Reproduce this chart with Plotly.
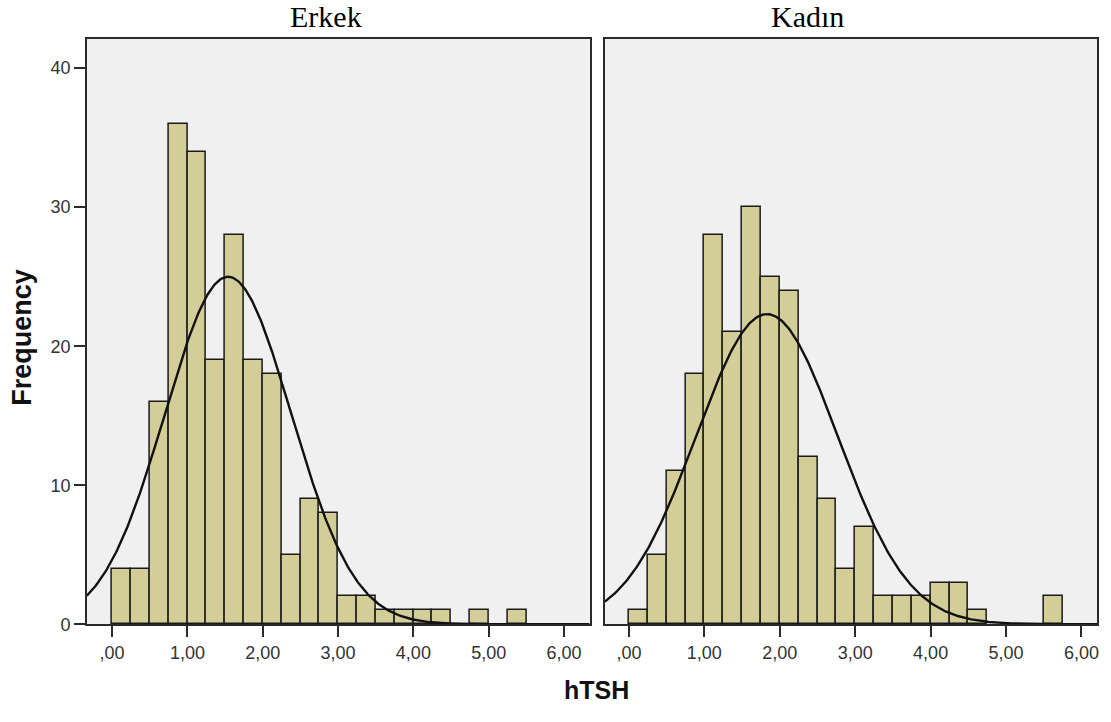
import numpy as np
import plotly.graph_objects as go

# ---- data ----
bin_width = 0.25

erkek_bin_start = [0.00, 0.25, 0.50, 0.75, 1.00, 1.25, 1.50, 1.75, 2.00, 2.25,
                   2.50, 2.75, 3.00, 3.25, 3.50, 3.75, 4.00, 4.25, 4.75, 5.25]
erkek_counts = [4, 4, 16, 36, 34, 19, 28, 19, 18, 5,
                9, 8, 2, 2, 1, 1, 1, 1, 1, 1]

kadin_bin_start = [0.00, 0.25, 0.50, 0.75, 1.00, 1.25, 1.50, 1.75, 2.00, 2.25,
                   2.50, 2.75, 3.00, 3.25, 3.50, 3.75, 4.00, 4.25, 4.50, 5.50]
kadin_counts = [1, 5, 11, 18, 28, 21, 30, 25, 24, 12,
                9, 4, 7, 2, 2, 2, 3, 3, 1, 2]

# fitted normal curves (mean, sd, N)
erkek_mean, erkek_sd, erkek_n = 1.54, 0.838, 210
kadin_mean, kadin_sd, kadin_n = 1.83, 0.939, 210

panel_titles = ["Erkek", "Kadın"]
x_tickvals = [0, 1, 2, 3, 4, 5, 6]
x_ticktext = [",00", "1,00", "2,00", "3,00", "4,00", "5,00", "6,00"]
y_tickvals = [0, 10, 20, 30, 40]
y_ticktext = ["0", "10", "20", "30", "40"]

x_range_left = [-0.335, 6.34]
x_range_right = [-0.318, 6.21]
y_range = [0, 42.1]

# ---- styling ----
BAR_FILL = "#D3CE97"
BAR_LINE = "#1a1a1a"
PLOT_BG = "#F0F0F0"
AXIS_COL = "#2a2a2a"
TICK_FONT = dict(family="Liberation Sans, Arial, sans-serif", size=18, color="#333333")

W, H = 1111, 722


def normal_curve(mean, sd, n, xr):
    xs = np.linspace(xr[0], xr[1], 400)
    ys = n * bin_width * np.exp(-0.5 * ((xs - mean) / sd) ** 2) / (sd * np.sqrt(2 * np.pi))
    return xs, ys


fig = go.Figure()

for starts, counts, mean, sd, n, xr, xa, ya in [
    (erkek_bin_start, erkek_counts, erkek_mean, erkek_sd, erkek_n, x_range_left, "x", "y"),
    (kadin_bin_start, kadin_counts, kadin_mean, kadin_sd, kadin_n, x_range_right, "x2", "y2"),
]:
    centers = [s + bin_width / 2 for s in starts]
    fig.add_trace(go.Bar(
        x=centers, y=counts, width=bin_width,
        marker=dict(color=BAR_FILL, line=dict(color=BAR_LINE, width=1.5)),
        xaxis=xa, yaxis=ya, showlegend=False, hoverinfo="x+y",
    ))
    cx, cy = normal_curve(mean, sd, n, xr)
    fig.add_trace(go.Scatter(
        x=cx, y=cy, mode="lines", line=dict(color="#111111", width=2.4),
        xaxis=xa, yaxis=ya, showlegend=False, hoverinfo="skip",
    ))

xdom_left = [87 / W, 590.7 / W]
xdom_right = [606 / W, 1099.3 / W]
ydom = [1 - 633 / H, 1 - 39.5 / H]

common_x = dict(
    tickmode="array", tickvals=x_tickvals, ticktext=x_ticktext,
    ticks="outside", ticklen=11, tickwidth=1.6, tickcolor=AXIS_COL,
    showline=True, linecolor=AXIS_COL, linewidth=1.6, mirror=True,
    showgrid=False, zeroline=False, tickfont=TICK_FONT,
)

fig.update_layout(
    width=W, height=H,
    margin=dict(l=0, r=0, t=0, b=0),
    paper_bgcolor="white",
    plot_bgcolor=PLOT_BG,
    bargap=0,
    xaxis=dict(domain=xdom_left, range=x_range_left, anchor="y", **common_x),
    xaxis2=dict(domain=xdom_right, range=x_range_right, anchor="y2", **common_x),
    yaxis=dict(domain=ydom, range=y_range, anchor="x",
               tickmode="array", tickvals=y_tickvals, ticktext=y_ticktext,
               ticks="outside", ticklen=11, tickwidth=1.6, tickcolor=AXIS_COL,
               showline=True, linecolor=AXIS_COL, linewidth=1.6, mirror=True,
               showgrid=False, zeroline=False, tickfont=TICK_FONT),
    yaxis2=dict(domain=ydom, range=y_range, anchor="x2",
                showticklabels=False, ticks="",
                showline=True, linecolor=AXIS_COL, linewidth=1.6, mirror=True,
                showgrid=False, zeroline=False),
    annotations=[
        dict(text=panel_titles[0], x=327 / W, y=1 - 17 / H, xref="paper", yref="paper",
             xanchor="center", yanchor="middle", showarrow=False,
             font=dict(family="Liberation Serif, Times New Roman, serif", size=30, color="#000000")),
        dict(text=panel_titles[1], x=809 / W, y=1 - 17 / H, xref="paper", yref="paper",
             xanchor="center", yanchor="middle", showarrow=False,
             font=dict(family="Liberation Serif, Times New Roman, serif", size=30, color="#000000")),
        dict(text="<b>hTSH</b>", x=598 / W, y=1 - 700 / H, xref="paper", yref="paper",
             xanchor="center", yanchor="middle", showarrow=False,
             font=dict(family="Liberation Sans, Arial, sans-serif", size=25, color="#111111")),
        dict(text="<b>Frequency</b>", x=22.5 / W, y=1 - 342 / H, xref="paper", yref="paper",
             xanchor="center", yanchor="middle", showarrow=False, textangle=-90,
             font=dict(family="Liberation Sans, Arial, sans-serif", size=27, color="#111111")),
    ],
)

fig.write_html(
    "out.html",
    config={"displayModeBar": False},
    post_script="document.body.style.margin='0px';document.body.style.overflow='hidden';",
)
